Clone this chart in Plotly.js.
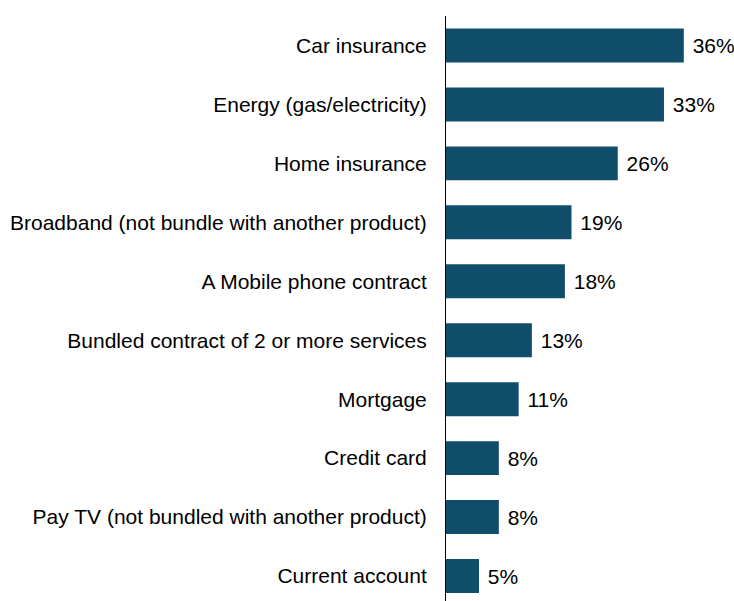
<!DOCTYPE html>
<html>
<head>
<meta charset="utf-8">
<script src="https://cdn.plot.ly/plotly-3.0.1.min.js"></script>
<style>
html,body{margin:0;padding:0;overflow:hidden;background:#fff;}
#chart{width:734px;height:601px;}
</style>
</head>
<body>
<div id="chart"></div>
<script>
const categories = [
  "Car insurance",
  "Energy (gas/electricity)",
  "Home insurance",
  "Broadband (not bundle with another product)",
  "A Mobile phone contract",
  "Bundled contract of 2 or more services",
  "Mortgage",
  "Credit card",
  "Pay TV (not bundled with another product)",
  "Current account"
];
const values = [36, 33, 26, 19, 18, 13, 11, 8, 8, 5];
const valueLabels = ["36%", "33%", "26%", "19%", "18%", "13%", "11%", "8%", "8%", "5%"];

const trace = {
  type: "bar",
  orientation: "h",
  y: categories,
  x: values,
  text: valueLabels.map(function (s) { return " " + s; }),
  textposition: "outside",
  constraintext: "none",
  cliponaxis: false,
  textfont: {family: "Liberation Sans, Arial, sans-serif", size: 21, color: "#000"},
  marker: {color: "#0f4d6b"},
  hoverinfo: "none"
};

const layout = {
  width: 734,
  height: 601,
  margin: {l: 446, r: 0, t: 15.5, b: 0},
  paper_bgcolor: "#fff",
  plot_bgcolor: "#fff",
  bargap: 0.424,
  showlegend: false,
  font: {family: "Liberation Sans, Arial, sans-serif", size: 21, color: "#000"},
  xaxis: {
    range: [0, 43.6],
    visible: false,
    showgrid: false,
    zeroline: false
  },
  yaxis: {
    type: "category",
    range: [9.424, -0.5],
    showgrid: false,
    zeroline: false,
    showline: true,
    linecolor: "#000",
    linewidth: 1,
    ticks: "",
    ticklabelstandoff: 14,
    tickfont: {family: "Liberation Sans, Arial, sans-serif", size: 21, color: "#000"}
  }
};

Plotly.newPlot("chart", [trace], layout, {displayModeBar: false, staticPlot: true});
</script>
</body>
</html>
